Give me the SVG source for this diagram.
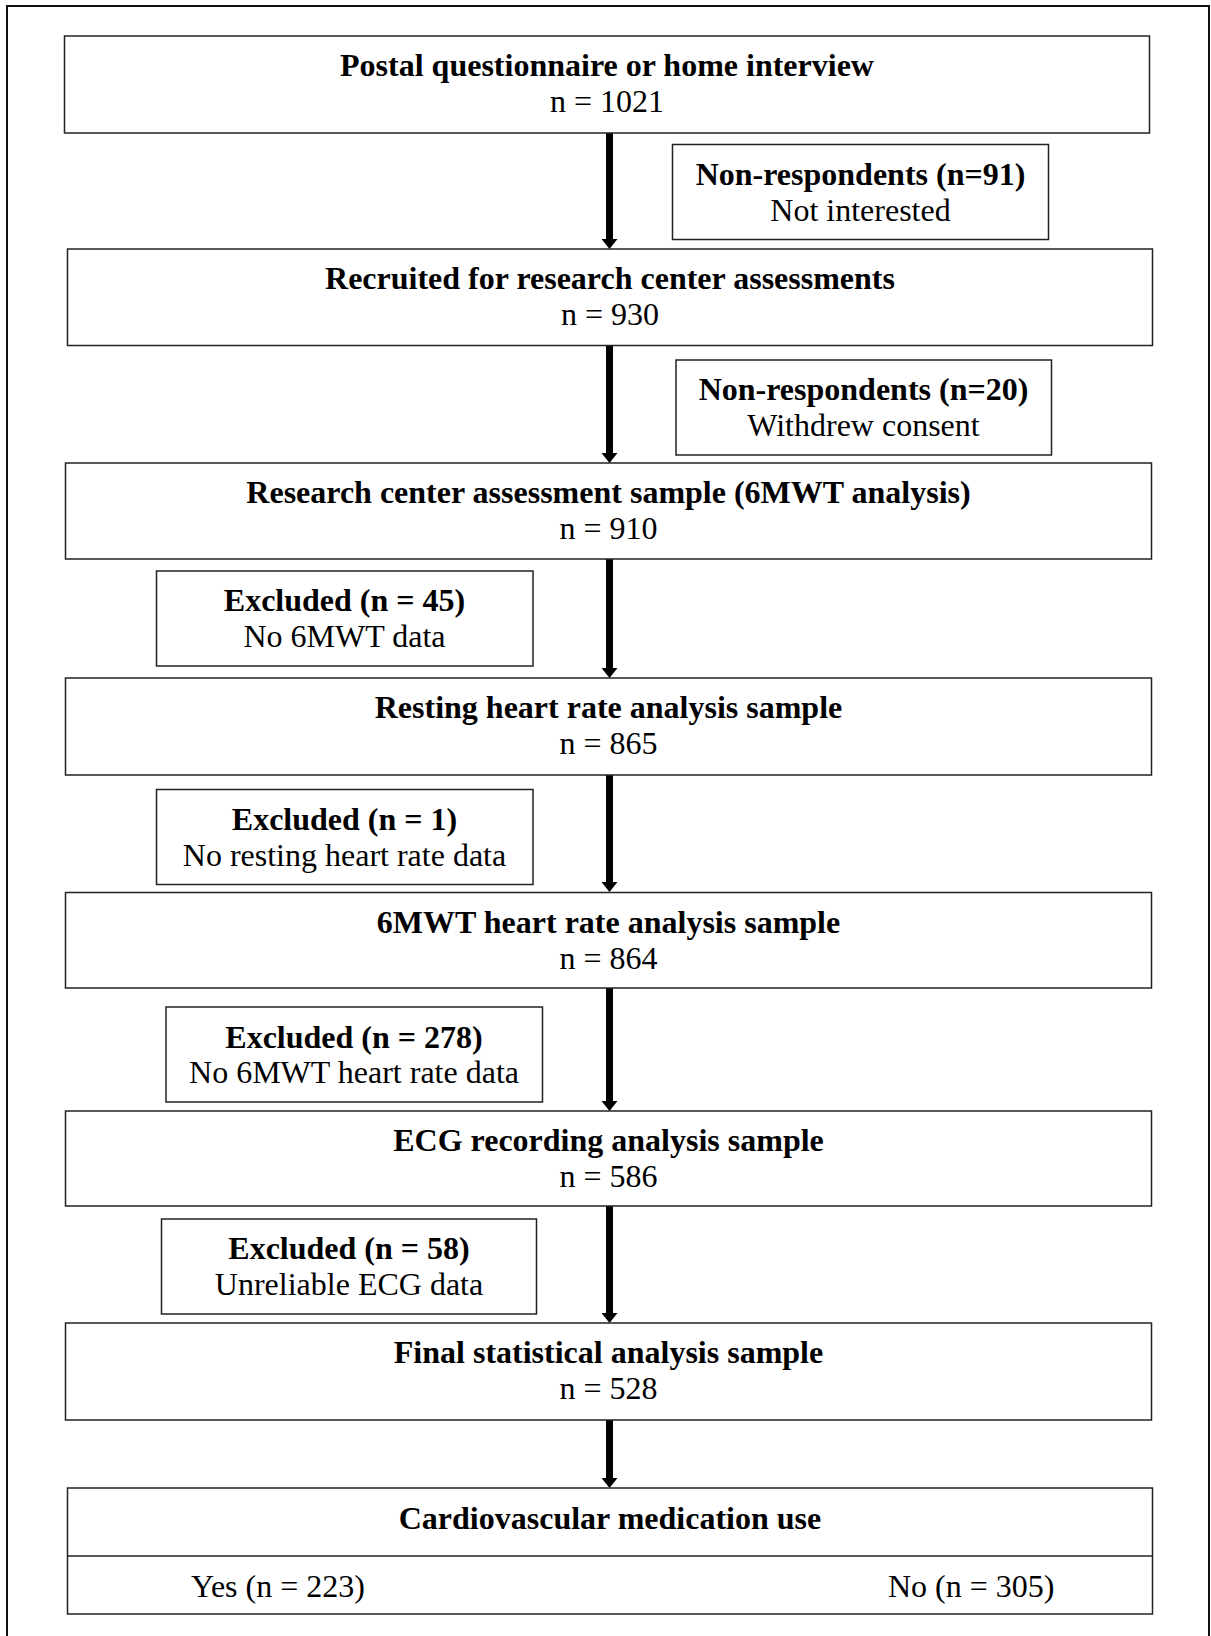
<svg xmlns="http://www.w3.org/2000/svg" width="1211" height="1636" viewBox="0 0 1211 1636">
<style>
.box{fill:#fff;stroke:#222;stroke-width:1.5}
.frame{fill:none;stroke:#111;stroke-width:2}
text{font-family:"Liberation Serif","Times New Roman",serif;font-size:32px;fill:#000;text-anchor:middle}
.b{font-weight:bold}
.l{text-anchor:start}
.shaft{stroke:#000;stroke-width:7}
.head{fill:#000}
</style>
<rect width="1211" height="1636" fill="#fff"/>
<rect class="frame" x="7" y="6" width="1202" height="1650"/>
<g id="connectors">
<line class="shaft" x1="609.5" y1="133" x2="609.5" y2="240"/><polygon class="head" points="601.5,239 617.5,239 609.5,249"/>
<line class="shaft" x1="609.5" y1="345.5" x2="609.5" y2="454"/><polygon class="head" points="601.5,453 617.5,453 609.5,463"/>
<line class="shaft" x1="609.5" y1="559" x2="609.5" y2="669"/><polygon class="head" points="601.5,668 617.5,668 609.5,678"/>
<line class="shaft" x1="609.5" y1="775" x2="609.5" y2="883"/><polygon class="head" points="601.5,882 617.5,882 609.5,892"/>
<line class="shaft" x1="609.5" y1="988" x2="609.5" y2="1102"/><polygon class="head" points="601.5,1101 617.5,1101 609.5,1111"/>
<line class="shaft" x1="609.5" y1="1206" x2="609.5" y2="1314"/><polygon class="head" points="601.5,1313 617.5,1313 609.5,1323"/>
<line class="shaft" x1="609.5" y1="1420" x2="609.5" y2="1479"/><polygon class="head" points="601.5,1478 617.5,1478 609.5,1488"/>
</g>
<g id="n1"><rect class="box" x="64.5" y="36" width="1085" height="97"/>
<text class="b" x="607" y="76">Postal questionnaire or home interview</text><text x="607" y="112">n = 1021</text></g>
<g id="nr91"><rect class="box" x="672.5" y="144.5" width="376" height="95"/>
<text class="b" x="860.5" y="185">Non-respondents (n=91)</text><text x="860.5" y="221">Not interested</text></g>
<g id="n2"><rect class="box" x="67.5" y="249" width="1085" height="96.5"/>
<text class="b" x="610" y="288.5">Recruited for research center assessments</text><text x="610" y="325">n = 930</text></g>
<g id="nr20"><rect class="box" x="676" y="360" width="375.5" height="95"/>
<text class="b" x="863.5" y="400">Non-respondents (n=20)</text><text x="863.5" y="436">Withdrew consent</text></g>
<g id="n3"><rect class="box" x="65.5" y="463" width="1086" height="96"/>
<text class="b" x="608.5" y="503">Research center assessment sample (6MWT analysis)</text><text x="608.5" y="539">n = 910</text></g>
<g id="ex45"><rect class="box" x="156.5" y="571" width="376.5" height="95"/>
<text class="b" x="344.5" y="611">Excluded (n = 45)</text><text x="344.5" y="647">No 6MWT data</text></g>
<g id="n4"><rect class="box" x="65.5" y="678" width="1086" height="97"/>
<text class="b" x="608.5" y="718">Resting heart rate analysis sample</text><text x="608.5" y="754">n = 865</text></g>
<g id="ex1"><rect class="box" x="156.5" y="789.5" width="376.5" height="95"/>
<text class="b" x="344.5" y="829.5">Excluded (n = 1)</text><text x="344.5" y="865.5">No resting heart rate data</text></g>
<g id="n5"><rect class="box" x="65.5" y="892.5" width="1086" height="95.5"/>
<text class="b" x="608.5" y="932.5">6MWT heart rate analysis sample</text><text x="608.5" y="968.5">n = 864</text></g>
<g id="ex278"><rect class="box" x="166" y="1007" width="376.5" height="95"/>
<text class="b" x="354" y="1047.5">Excluded (n = 278)</text><text x="354" y="1083">No 6MWT heart rate data</text></g>
<g id="n6"><rect class="box" x="65.5" y="1111" width="1086" height="95"/>
<text class="b" x="608.5" y="1151">ECG recording analysis sample</text><text x="608.5" y="1187">n = 586</text></g>
<g id="ex58"><rect class="box" x="161.5" y="1219" width="375" height="95"/>
<text class="b" x="349" y="1259">Excluded (n = 58)</text><text x="349" y="1295">Unreliable ECG data</text></g>
<g id="n7"><rect class="box" x="65.5" y="1323" width="1086" height="97"/>
<text class="b" x="608.5" y="1363">Final statistical analysis sample</text><text x="608.5" y="1399">n = 528</text></g>
<g id="n8"><rect class="box" x="67.5" y="1488" width="1085" height="126"/>
<line class="box" x1="67.5" y1="1556" x2="1152.5" y2="1556"/>
<text class="b" x="610" y="1529">Cardiovascular medication use</text>
<text class="l" x="191" y="1597">Yes (n = 223)</text><text class="l" x="888" y="1597">No (n = 305)</text></g>
</svg>
